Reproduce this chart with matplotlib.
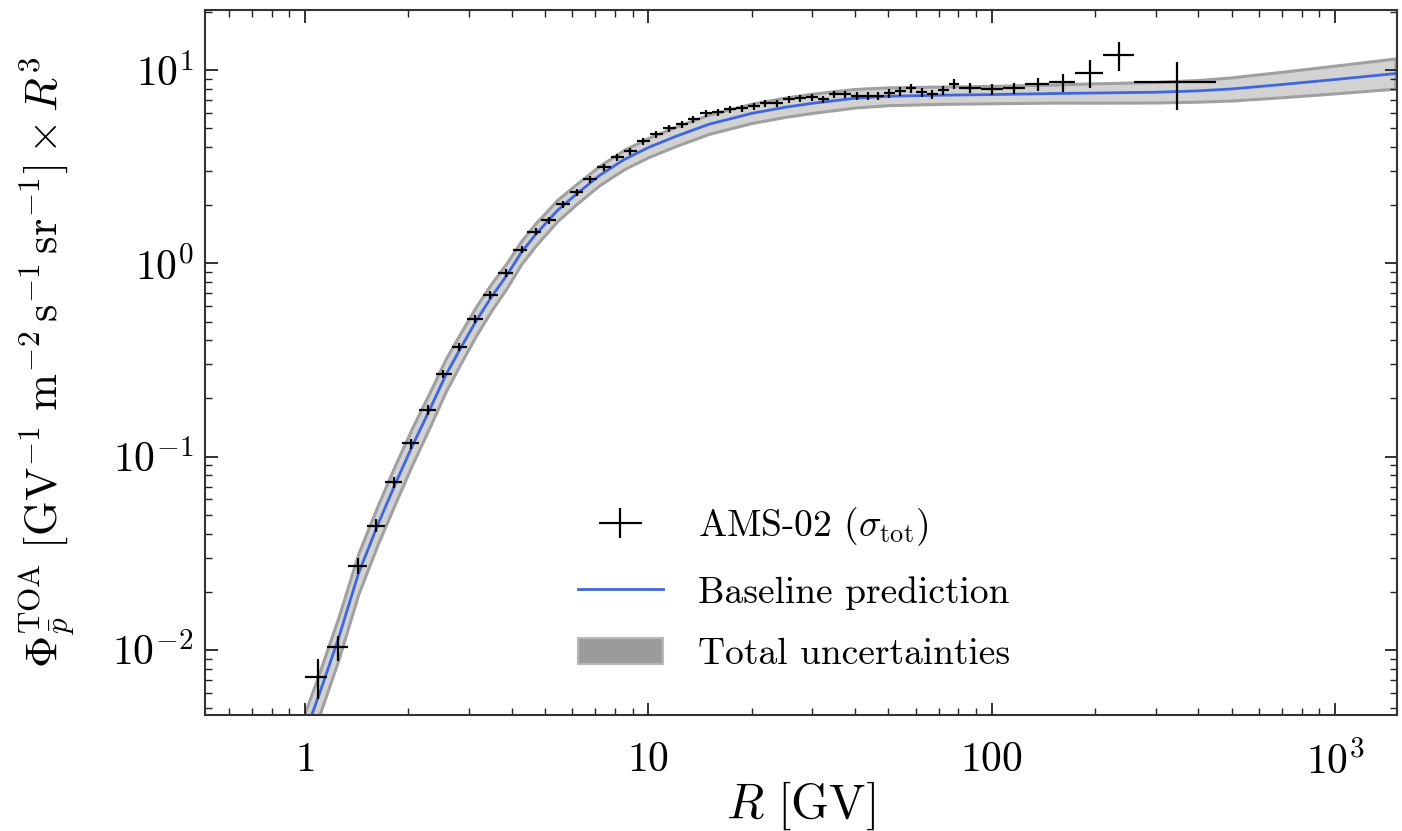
import numpy as np
import matplotlib
matplotlib.use("Agg")
import matplotlib.pyplot as plt
from matplotlib.patches import Patch
from matplotlib.ticker import LogLocator, NullFormatter
from matplotlib.legend_handler import HandlerErrorbar
from matplotlib.container import ErrorbarContainer

plt.rcParams['mathtext.fontset'] = 'cm'
plt.rcParams['font.family'] = 'serif'
plt.rcParams['font.serif'] = ['cmr10', 'DejaVu Serif']
plt.rcParams['axes.unicode_minus'] = False
plt.rcParams['axes.formatter.use_mathtext'] = True

# ---- AMS-02 antiproton data (flux x R^3) ----
bin_edges = [1.00, 1.16, 1.33, 1.51, 1.71, 1.92, 2.15, 2.40, 2.67, 2.97, 3.29, 3.64,
             4.02, 4.43, 4.88, 5.37, 5.90, 6.47, 7.09, 7.76, 8.48, 9.26, 10.1, 11.0,
             12.0, 13.0, 14.1, 15.3, 16.6, 18.0, 19.5, 21.1, 22.8, 24.7, 26.7, 28.8,
             31.1, 33.5, 36.1, 38.9, 41.9, 45.1, 48.5, 52.2, 56.1, 60.3, 64.8, 69.7,
             74.9, 80.5, 93.0, 108.0, 125.0, 147.0, 175.0, 211.0, 259.0, 450.0]
R_data = [1.09, 1.25, 1.43, 1.61, 1.81, 2.04, 2.28, 2.52, 2.81, 3.13, 3.46, 3.85,
          4.27, 4.71, 5.12, 5.63, 6.18, 6.78, 7.42, 8.11, 8.86, 9.67, 10.5, 11.5,
          12.5, 13.5, 14.7, 15.9, 17.3, 18.7, 20.3, 21.9, 23.7, 25.7, 27.7, 29.9,
          32.3, 34.8, 37.5, 40.4, 43.5, 46.8, 50.3, 54.1, 58.2, 62.5, 67.2, 72.3,
          77.7, 86.5, 100.0, 116.0, 136.0, 161.0, 193.0, 235.0, 346.0]
flux_data = [0.00725, 0.0103, 0.0273, 0.0440, 0.0736, 0.117, 0.174, 0.268, 0.370,
             0.516, 0.688, 0.895, 1.18, 1.46, 1.67, 2.02, 2.33, 2.72, 3.14, 3.54,
             3.80, 4.28, 4.66, 5.00, 5.25, 5.57, 5.98, 6.06, 6.28, 6.35, 6.51, 6.74,
             6.74, 7.08, 7.16, 7.25, 7.08, 7.50, 7.50, 7.33, 7.33, 7.33, 7.60, 7.78,
             8.07, 7.69, 7.50, 7.87, 8.46, 8.07, 7.97, 8.07, 8.46, 8.66, 9.65, 11.96,
             8.66]
flux_err = [0.0017, 0.0015, 0.0025, 0.0035, 0.005, 0.007, 0.010, 0.013, 0.018,
            0.024, 0.030, 0.040, 0.050, 0.060, 0.07, 0.08, 0.09, 0.11, 0.12, 0.14,
            0.15, 0.17, 0.18, 0.20, 0.20, 0.22, 0.23, 0.24, 0.25, 0.25, 0.26, 0.27,
            0.28, 0.29, 0.30, 0.31, 0.31, 0.33, 0.34, 0.34, 0.35, 0.36, 0.38, 0.40,
            0.42, 0.42, 0.43, 0.46, 0.50, 0.48, 0.50, 0.55, 0.70, 0.95, 1.6, 2.0,
            2.4]

# ---- Baseline prediction and total-uncertainty band ----
R_model = [1.0, 1.1, 1.25, 1.43, 1.63, 1.83, 2.05, 2.31, 2.56, 2.83, 3.15, 3.49,
           3.88, 4.26, 4.69, 5.43, 6.2, 7.2, 8.5, 10, 12, 15, 20, 25, 30, 40, 50,
           70, 100, 150, 200, 300, 400, 500, 700, 1000, 1500]
flux_model = [0.0037, 0.0059, 0.0114, 0.0248, 0.0446, 0.072, 0.113, 0.176, 0.261,
              0.361, 0.504, 0.671, 0.874, 1.137, 1.41, 1.88, 2.30, 2.85, 3.45, 3.98,
              4.54, 5.25, 5.98, 6.43, 6.74, 7.16, 7.33, 7.42, 7.48, 7.57, 7.62, 7.69,
              7.82, 8.00, 8.43, 8.95, 9.61]
band_hi = [0.00477, 0.0076, 0.0147, 0.0316, 0.0562, 0.0906, 0.1407, 0.2165, 0.3174,
           0.4339, 0.599, 0.788, 1.015, 1.305, 1.612, 2.134, 2.592, 3.198, 3.871,
           4.466, 5.094, 5.891, 6.710, 7.215, 7.562, 7.998, 8.151, 8.229, 8.295,
           8.433, 8.550, 8.690, 8.899, 9.184, 9.813, 10.561, 11.503]
band_lo = [0.00287, 0.00458, 0.00885, 0.0195, 0.0354, 0.0572, 0.0908, 0.1431,
           0.2146, 0.3004, 0.424, 0.571, 0.753, 0.990, 1.234, 1.656, 2.041, 2.540,
           3.075, 3.547, 4.046, 4.679, 5.330, 5.731, 6.007, 6.410, 6.592, 6.690,
           6.745, 6.795, 6.791, 6.805, 6.872, 6.969, 7.242, 7.585, 8.028]

xtick_vals = [1, 10, 100, 1000]
xtick_labels = [r'$1$', r'$10$', r'$100$', r'$10^3$']
ytick_vals = [1e-2, 1e-1, 1e0, 1e1]
ytick_labels = [r'$10^{-2}$', r'$10^{-1}$', r'$10^{0}$', r'$10^{1}$']

fig = plt.figure(figsize=(14.02, 8.31), dpi=100)
ax = fig.add_axes([0.146, 0.1396, 0.8504, 0.8484])

edges = np.array(bin_edges)
R = np.array(R_data)
xerr = np.vstack([R - edges[:-1], edges[1:] - R])

ax.fill_between(R_model, band_lo, band_hi, facecolor='#d2d2d2',
                edgecolor='#a0a0a0', linewidth=2.2, zorder=1)
line, = ax.plot(R_model, flux_model, color='#3d66e0', lw=2.0, zorder=2)
eb = ax.errorbar(R_data, flux_data, yerr=flux_err, xerr=xerr, fmt='none',
                 ecolor='black', elinewidth=1.6, capsize=0, zorder=3)

ax.set_xscale('log')
ax.set_yscale('log')
ax.set_xlim(0.51, 1515)
ax.set_ylim(0.0046, 20.5)

ax.set_xticks(xtick_vals)
ax.set_xticklabels(xtick_labels)
ax.set_yticks(ytick_vals)
ax.set_yticklabels(ytick_labels)
ax.xaxis.set_minor_locator(LogLocator(base=10, subs=np.arange(2, 10)))
ax.yaxis.set_minor_locator(LogLocator(base=10, subs=np.arange(2, 10)))
ax.xaxis.set_minor_formatter(NullFormatter())
ax.yaxis.set_minor_formatter(NullFormatter())

ax.tick_params(which='both', direction='in', top=True, right=True,
               labelsize=30, colors='#222222', labelcolor='black')
ax.tick_params(which='major', length=9, width=1.3)
ax.tick_params(which='minor', length=5, width=1.0)
ax.tick_params(axis='x', which='major', pad=19)
ax.tick_params(axis='y', which='major', pad=8)
for s in ax.spines.values():
    s.set_linewidth(1.5)
    s.set_color('#333333')

ax.set_xlabel(r'$R\ [{\rm GV}]$', fontsize=35)
ax.xaxis.set_label_coords(0.5, -0.092)
ax.set_ylabel(r'$\Phi_{\bar{p}}^{\rm TOA}\ [{\rm GV}^{-1}\ {\rm m}^{-2}\,{\rm s}^{-1}\,{\rm sr}^{-1}] \times R^3$',
              fontsize=32)
ax.yaxis.set_label_coords(-0.107, 0.5)

band_handle = Patch(facecolor='#9b9b9b', edgecolor='#b8b8b8', linewidth=1.5)
ax.legend([eb, line, band_handle],
          [r'AMS-02 ($\sigma_{\rm tot}$)', 'Baseline prediction', 'Total uncertainties'],
          loc='upper left', bbox_to_anchor=(0.313, 0.298), frameon=False,
          fontsize=27, handlelength=2.27, handletextpad=0.93, labelspacing=0.75,
          borderaxespad=0, borderpad=0,
          handler_map={ErrorbarContainer: HandlerErrorbar(xerr_size=0.58, yerr_size=0.4)})

fig.savefig('out.png', dpi=100)
